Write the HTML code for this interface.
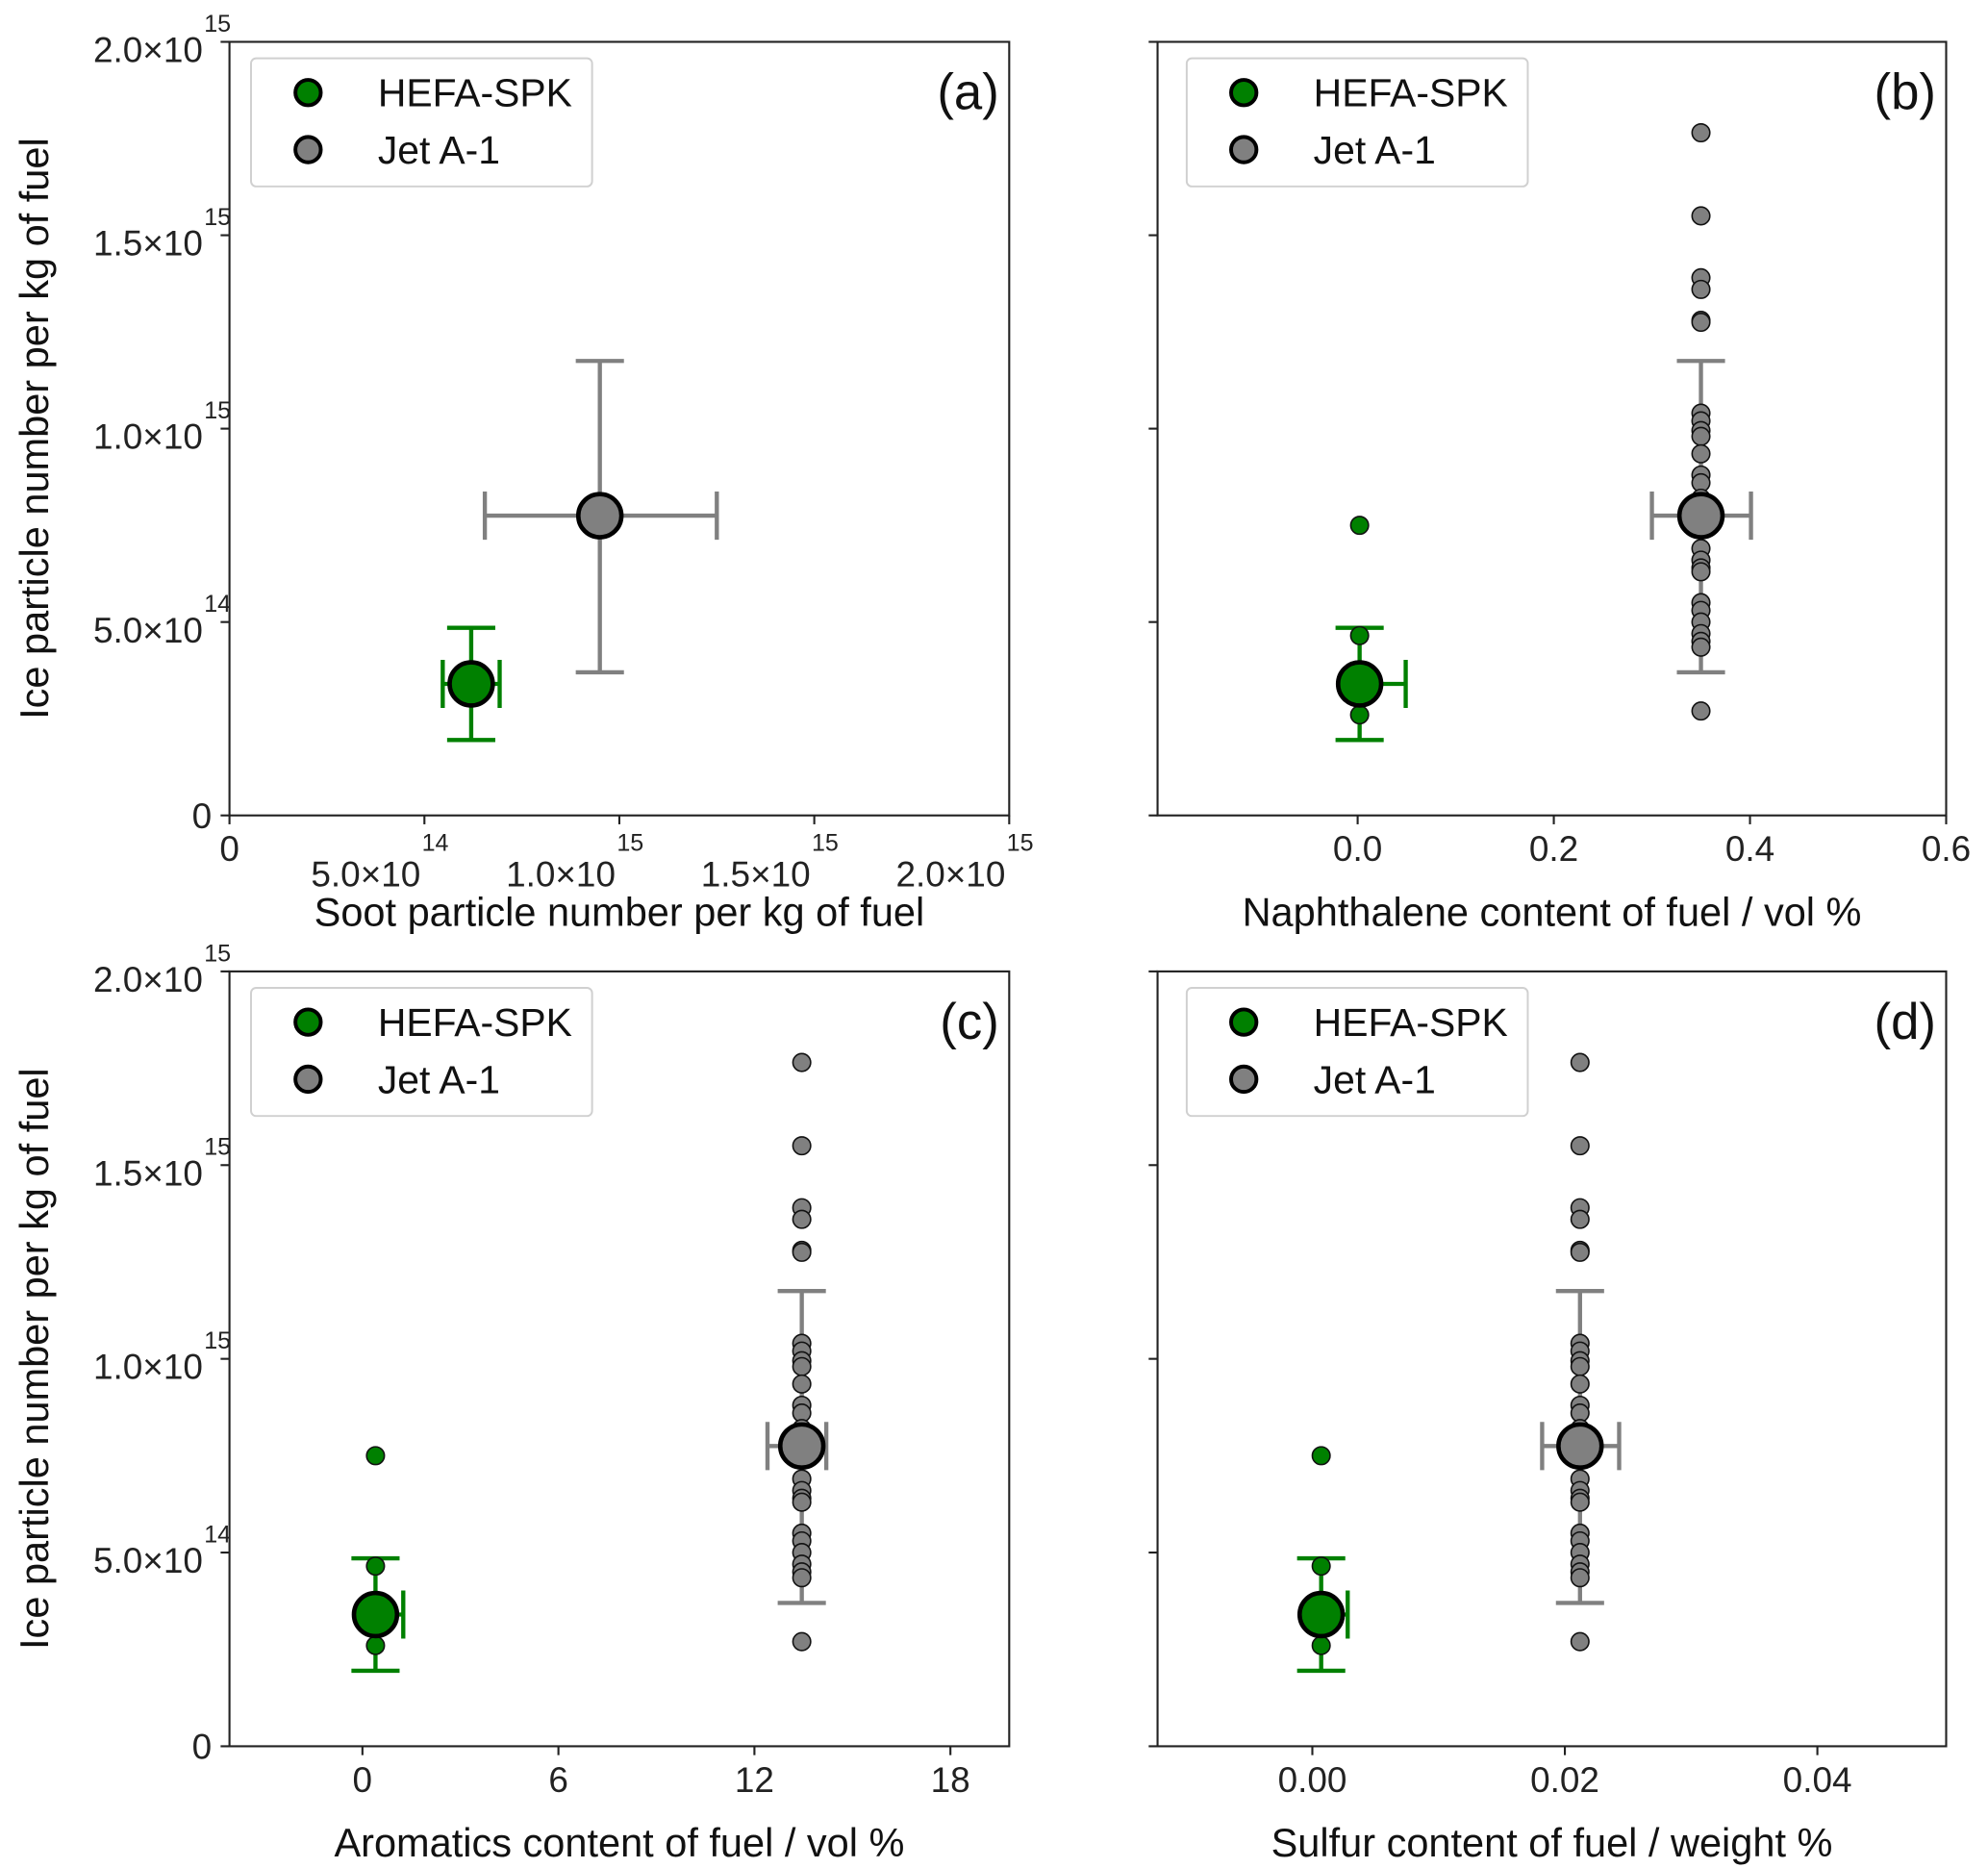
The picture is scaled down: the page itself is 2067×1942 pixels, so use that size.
<!DOCTYPE html>
<html><head><meta charset="utf-8"><style>
html,body{margin:0;padding:0;background:#fff;}
svg{display:block;font-family:"Liberation Sans",Arial,sans-serif;}
</style></head><body>
<svg id="fig" width="2067" height="1942" viewBox="0 0 1568 1473" preserveAspectRatio="none" xmlns="http://www.w3.org/2000/svg"></svg>
<script>
// ---- data (y values in units of 1e14 particles/kg) ----
const jetY = [17.65,15.5,13.9,13.6,12.8,12.75,10.4,10.2,9.95,9.8,9.35,8.8,8.6,8.2,7.5,6.9,6.6,6.4,6.3,5.5,5.3,5.0,4.7,4.5,4.35,2.7];
const hefaY = [7.5,4.65,3.4,2.6];
const hefaMeanY = 3.4, hefaYLo = 1.95, hefaYHi = 4.85;
const jetMeanY = 7.75, jetYLo = 3.7, jetYHi = 11.75;
// panel a (x in 1e14)
const sootHefa = [6.2, 5.47, 6.93];   // mean, lo, hi
const sootJet = [9.5, 6.55, 12.5];
// panel b
const naphHefa = [0.002, 0.002, 0.049];
const naphJet = [0.35, 0.30, 0.401];
// panel c
const aromHefa = [0.4, 0.4, 1.25];
const aromJet = [13.45, 12.4, 14.2];
// panel d
const sulfHefa = [0.0007, 0.0007, 0.0028];
const sulfJet = [0.0212, 0.0182, 0.0243];
const yTickVals = [0,5,10,15,20];
const yTickLabels = [["0",""],["5.0×10","14"],["1.0×10","15"],["1.5×10","15"],["2.0×10","15"]];

const NS="http://www.w3.org/2000/svg";
const svg=document.getElementById('fig');
function mk(tag,attrs,parent){const e=document.createElementNS(NS,tag);for(const k in attrs)e.setAttribute(k,attrs[k]);(parent||svg).appendChild(e);return e;}

function panel(cfg){
  const g=mk('g',{});
  
  
  const L=cfg.L,R=cfg.R,T=cfg.T,B=cfg.B;
  const sx=v=>L+(v-cfg.xmin)/(cfg.xmax-cfg.xmin)*(R-L);
  const sy=v=>B-(v-0)/(20-0)*(B-T);
  const fr=mk('rect',{x:L,y:T,width:R-L,height:B-T,fill:'none',stroke:'#222','stroke-width':1.6},g);
  
  
  yTickVals.forEach((v,i)=>{
    const y=sy(v);
    mk('line',{x1:L-7,x2:L,y1:y,y2:y,stroke:'#222','stroke-width':1.6},g);
    if(cfg.ylabels){
      const t=mk('text',{x:167,y:y+10,'font-size':28,'text-anchor':'end',fill:'#222'},g);
      
      
      const lab=yTickLabels[i];
      if(lab[1]){ t.setAttribute('x',160); t.setAttribute('y',y+16); t.textContent=lab[0];
        const s=mk('text',{x:161,y:y-8,'font-size':19,fill:'#222'},g);s.textContent=lab[1];
        
        
      } else { t.textContent=lab[0]; }
    }
  });
  cfg.xticks.forEach((v,i)=>{
    const x=sx(v);
    mk('line',{x1:x,x2:x,y1:B,y2:B+7,stroke:'#222','stroke-width':1.6},g);
    const lab=cfg.xlabels[i];
    const t=mk('text',{x:x,y:B+36,'font-size':28,'text-anchor':'middle',fill:'#222'},g);
    
    
    if(Array.isArray(lab)){
      t.setAttribute('y',B+56);t.setAttribute('x',x-3);t.setAttribute('text-anchor','end');t.textContent=lab[0];
      const s=mk('text',{x:x-2,y:B+28,'font-size':19,fill:'#222'},g);s.textContent=lab[1];
      
      
    } else t.textContent=lab;
  });
  const xt=mk('text',{x:(L+R)/2,y:B+87,'font-size':31.5,'text-anchor':'middle',fill:'#111'},g);
  xt.textContent=cfg.xtitle;
  
  
  if(cfg.ylabels){
    const yt=mk('text',{x:0,y:0,'font-size':31.5,'text-anchor':'middle',fill:'#111',transform:`translate(38,${(T+B)/2}) rotate(-90)`},g);
    yt.textContent='Ice particle number per kg of fuel';
    
    
  }
  function errbar(mx,my,xlo,xhi,ylo,yhi,col,showLeft){
    const e=mk('g',{stroke:col,'stroke-width':3.3,fill:'none'},g);
    
    
    const X=sx(mx),Y=sy(my);
    mk('line',{x1:sx(xlo),x2:sx(xhi),y1:Y,y2:Y},e);
    if(showLeft) mk('line',{x1:sx(xlo),x2:sx(xlo),y1:Y-19,y2:Y+19},e);
    mk('line',{x1:sx(xhi),x2:sx(xhi),y1:Y-19,y2:Y+19},e);
    mk('line',{x1:X,x2:X,y1:sy(ylo),y2:sy(yhi)},e);
    mk('line',{x1:X-19,x2:X+19,y1:sy(ylo),y2:sy(ylo)},e);
    mk('line',{x1:X-19,x2:X+19,y1:sy(yhi),y2:sy(yhi)},e);
  }
  const H=cfg.hefa,J=cfg.jet;
  errbar(J[0],jetMeanY,J[1],J[2],jetYLo,jetYHi,'#808080',true);
  errbar(H[0],hefaMeanY,H[1],H[2],hefaYLo,hefaYHi,'#008000',H[1]<H[0]);
  if(cfg.points){
    hefaY.forEach(v=>{const c=mk('circle',{cx:sx(H[0]),cy:sy(v),r:7,fill:'#008000',stroke:'#111','stroke-width':1.2},g);
      
      });
    jetY.forEach(v=>{const c=mk('circle',{cx:sx(J[0]),cy:sy(v),r:7,fill:'#808080',stroke:'#111','stroke-width':1.2},g);
      
      });
  }
  const mj=mk('circle',{cx:sx(J[0]),cy:sy(jetMeanY),r:17,fill:'#808080',stroke:'#000','stroke-width':3.5},g);
  
  
  const mh=mk('circle',{cx:sx(H[0]),cy:sy(hefaMeanY),r:17,fill:'#008000',stroke:'#000','stroke-width':3.5},g);
  
  
  const lg=mk('g',{},g);
  
  
  const lx=L+cfg.legOff;
  mk('rect',{x:lx,y:T+13,width:269,height:101,rx:4,fill:'#fff',stroke:'#d0d0d0','stroke-width':1.5},lg);
  [['HEFA-SPK','#008000',40],['Jet A-1','#808080',85]].forEach(([n,c,dy])=>{
    const le=mk('g',{},lg);
    
    
    mk('circle',{cx:lx+45,cy:T+dy,r:10,fill:c,stroke:'#000','stroke-width':3},le);
    const t=mk('text',{x:lx+100,y:T+dy+11,'font-size':31,fill:'#111'},le);t.textContent=n;
  });
  const pl=mk('text',{x:R-8,y:T+53,'font-size':40,'text-anchor':'end',fill:'#111'},g);
  pl.textContent='('+cfg.id+')';
  
  
}

panel({id:'a',L:181,R:796,T:33,B:643,xmin:0,xmax:20,ylabels:true,points:false,legOff:17,
  xticks:[0,5,10,15,20],xlabels:['0',['5.0×10','14'],['1.0×10','15'],['1.5×10','15'],['2.0×10','15']],
  xtitle:'Soot particle number per kg of fuel',hefa:sootHefa,jet:sootJet});
panel({id:'b',L:913,R:1535,T:33,B:643,xmin:-0.204,xmax:0.6,ylabels:false,points:true,legOff:23,
  xticks:[0,0.2,0.4,0.6],xlabels:['0.0','0.2','0.4','0.6'],
  xtitle:'Naphthalene content of fuel / vol %',hefa:naphHefa,jet:naphJet});
panel({id:'c',L:181,R:796,T:766,B:1377,xmin:-4.07,xmax:19.8,ylabels:true,points:true,legOff:17,
  xticks:[0,6,12,18],xlabels:['0','6','12','18'],
  xtitle:'Aromatics content of fuel / vol %',hefa:aromHefa,jet:aromJet});
panel({id:'d',L:913,R:1535,T:766,B:1377,xmin:-0.01226,xmax:0.0502,ylabels:false,points:true,legOff:23,
  xticks:[0,0.02,0.04],xlabels:['0.00','0.02','0.04'],
  xtitle:'Sulfur content of fuel / weight %',hefa:sulfHefa,jet:sulfJet});
</script>
</body></html>
